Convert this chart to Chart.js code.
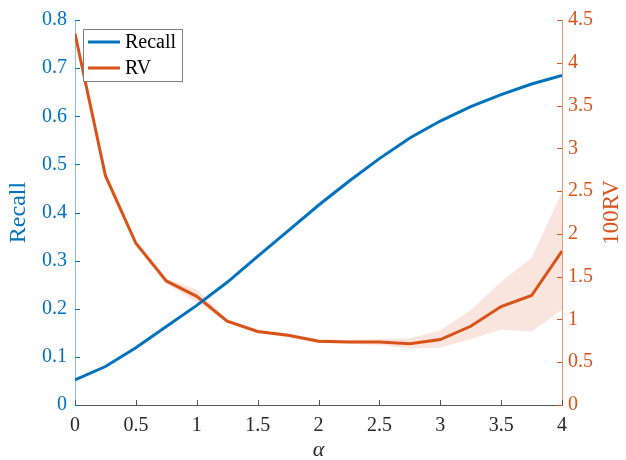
<!DOCTYPE html>
<html>
<head>
<meta charset="utf-8">
<script src="https://cdn.jsdelivr.net/npm/chart.js@4"></script>
<style>
    html, body { margin: 0; padding: 0; background: #fff; }
    #wrap { width: 626px; height: 460px; }
</style>
</head>
<body>
<div id="wrap"><canvas id="recallChart"></canvas></div>
<script>
// Data
const alphaValues = [0, 0.25, 0.5, 0.75, 1, 1.25, 1.5, 1.75, 2, 2.25, 2.5, 2.75, 3, 3.25, 3.5, 3.75, 4];
const recallValues = [0.052, 0.080, 0.119, 0.163, 0.207, 0.255, 0.309, 0.362, 0.415, 0.465, 0.512, 0.555, 0.590, 0.620, 0.645, 0.667, 0.685];
const rvValues = [4.34, 2.68, 1.89, 1.45, 1.27, 0.98, 0.86, 0.815, 0.746, 0.735, 0.735, 0.715, 0.765, 0.92, 1.15, 1.28, 1.80];
const rvUpper = [4.36, 2.70, 1.91, 1.48, 1.35, 1.00, 0.88, 0.835, 0.77, 0.76, 0.77, 0.78, 0.87, 1.11, 1.44, 1.72, 2.49];
const rvLower = [4.32, 2.66, 1.87, 1.42, 1.20, 0.96, 0.84, 0.795, 0.725, 0.715, 0.70, 0.66, 0.67, 0.77, 0.88, 0.86, 1.11];
const xTicks = [0, 0.5, 1, 1.5, 2, 2.5, 3, 3.5, 4];
const rightTitle = '100RV';

const BLUE = '#0072BD';
const ORANGE = '#D95319';
const SERIF = "'Liberation Serif', 'DejaVu Serif', serif";

function pts(ys) {
    return alphaValues.map((x, i) => ({ x: x, y: ys[i] }));
}

// 1.0 -> "1", 0.5 -> "0.5"
function plainNum(value) {
    return String(Number(value.toFixed(2)));
}

// MATLAB style inward tick marks
const innerTicks = {
    id: 'innerTicks',
    afterDraw(chart) {
        const ctx = chart.ctx;
        const area = chart.chartArea;
        const len = 5;
        ctx.save();
        ctx.lineWidth = 1;
        ctx.strokeStyle = '#555';
        chart.scales.x.ticks.forEach(t => {
            const px = Math.round(chart.scales.x.getPixelForValue(t.value)) + 0.5;
            ctx.beginPath();
            ctx.moveTo(px, area.bottom);
            ctx.lineTo(px, area.bottom - len);
            ctx.stroke();
        });
        ctx.strokeStyle = BLUE;
        chart.scales.y.ticks.forEach(t => {
            const py = Math.round(chart.scales.y.getPixelForValue(t.value)) + 0.5;
            ctx.beginPath();
            ctx.moveTo(area.left, py);
            ctx.lineTo(area.left + len, py);
            ctx.stroke();
        });
        ctx.strokeStyle = ORANGE;
        chart.scales.y1.ticks.forEach(t => {
            const py = Math.round(chart.scales.y1.getPixelForValue(t.value)) + 0.5;
            ctx.beginPath();
            ctx.moveTo(area.right, py);
            ctx.lineTo(area.right - len, py);
            ctx.stroke();
        });

        // right axis title, reading bottom to top like the left one
        ctx.save();
        ctx.translate(612, (area.top + area.bottom) / 2);
        ctx.rotate(-Math.PI / 2);
        ctx.font = '23px ' + SERIF;
        ctx.fillStyle = ORANGE;
        ctx.textAlign = 'center';
        ctx.textBaseline = 'middle';
        ctx.fillText(rightTitle, 0, 0);
        ctx.restore();
        ctx.restore();
    }
};

// Legend box in the upper left corner of the axes
const boxLegend = {
    id: 'boxLegend',
    afterDraw(chart) {
        const ctx = chart.ctx;
        const area = chart.chartArea;
        const x0 = area.left + 8, y0 = area.top + 9;
        const w = 100, h = 53;
        ctx.save();
        ctx.fillStyle = '#fff';
        ctx.fillRect(x0, y0, w, h);
        ctx.strokeStyle = '#7f7f7f';
        ctx.lineWidth = 1;
        ctx.strokeRect(x0 + 0.5, y0 + 0.5, w - 1, h - 1);
        const items = chart.data.datasets.filter(d => d.inLegend);
        ctx.font = '20px ' + SERIF;
        ctx.textBaseline = 'middle';
        items.forEach((d, i) => {
            const y = y0 + 13 + i * 26;
            ctx.strokeStyle = d.borderColor;
            ctx.lineWidth = 3;
            ctx.beginPath();
            ctx.moveTo(x0 + 5, y);
            ctx.lineTo(x0 + 37, y);
            ctx.stroke();
            ctx.fillStyle = '#000';
            ctx.fillText(d.label, x0 + 42, y + 1);
        });
        ctx.restore();
    }
};

const ctx = document.getElementById('recallChart').getContext('2d');
const recallChart = new Chart(ctx, {
    type: 'line',
    data: {
        datasets: [
            {
                label: 'Recall',
                inLegend: true,
                data: pts(recallValues),
                yAxisID: 'y',
                borderColor: BLUE,
                borderWidth: 3,
                pointRadius: 0,
                tension: 0,
                fill: false
            },
            {
                label: 'RV',
                inLegend: true,
                data: pts(rvValues),
                yAxisID: 'y1',
                borderColor: ORANGE,
                borderWidth: 3,
                pointRadius: 0,
                tension: 0,
                fill: false
            },
            {
                label: 'RV upper',
                data: pts(rvUpper),
                yAxisID: 'y1',
                borderWidth: 0,
                borderColor: 'rgba(0,0,0,0)',
                backgroundColor: 'rgba(217, 83, 25, 0.15)',
                pointRadius: 0,
                tension: 0,
                fill: '+1'
            },
            {
                label: 'RV lower',
                data: pts(rvLower),
                yAxisID: 'y1',
                borderWidth: 0,
                borderColor: 'rgba(0,0,0,0)',
                pointRadius: 0,
                tension: 0,
                fill: false
            }
        ]
    },
    options: {
        responsive: true,
        maintainAspectRatio: false,
        animation: false,
        layout: { padding: { top: 13, left: 0, right: 0, bottom: 0 } },
        plugins: {
            legend: { display: false },
            tooltip: { enabled: false }
        },
        scales: {
            x: {
                type: 'linear',
                min: 0,
                max: 4,
                afterFit: function (scale) { scale.height = 55; },
                afterBuildTicks: function (scale) {
                    scale.ticks = xTicks.map(v => ({ value: v }));
                },
                grid: { display: false, drawTicks: false },
                border: { display: true, color: '#555', width: 1 },
                ticks: {
                    color: '#262626',
                    font: { family: SERIF, size: 20 },
                    padding: 9,
                    maxRotation: 0,
                    callback: plainNum
                },
                title: {
                    display: true,
                    text: 'α',
                    color: '#262626',
                    font: { family: SERIF, size: 22, style: 'italic' },
                    padding: { top: 0, bottom: -3 }
                }
            },
            y: {
                position: 'left',
                min: 0,
                max: 0.8,
                afterFit: function (scale) { scale.width = 75; },
                grid: { display: false, drawTicks: false },
                border: { display: true, color: 'rgba(0, 114, 189, 0.45)', width: 1 },
                ticks: {
                    stepSize: 0.1,
                    color: BLUE,
                    font: { family: SERIF, size: 20 },
                    padding: 8,
                    callback: plainNum
                },
                title: {
                    display: true,
                    text: 'Recall',
                    color: BLUE,
                    font: { family: SERIF, size: 24 },
                    padding: { top: 4, bottom: 0 }
                }
            },
            y1: {
                position: 'right',
                min: 0,
                max: 4.5,
                afterFit: function (scale) { scale.width = 64; },
                grid: { display: false, drawTicks: false },
                border: { display: true, color: 'rgba(217, 83, 25, 0.6)', width: 1 },
                ticks: {
                    stepSize: 0.5,
                    color: ORANGE,
                    font: { family: SERIF, size: 20 },
                    padding: 6,
                    callback: plainNum
                },
                title: { display: false }
            }
        }
    },
    plugins: [innerTicks, boxLegend]
});
</script>
</body>
</html>
